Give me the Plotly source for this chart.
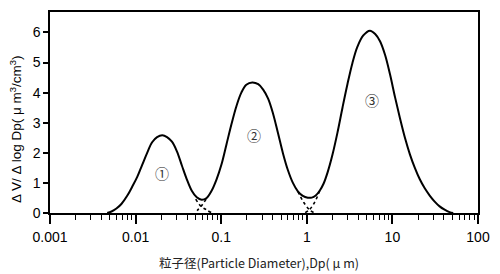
import numpy as np
import plotly.graph_objects as go

# Particle diameter (um) and dV/dlogDp for the solid overall curve
dp_solid = [0.00466, 0.00523, 0.00597, 0.00682, 0.00801, 0.00915, 0.01045, 0.01194, 0.01365,
            0.01560, 0.01782, 0.02052, 0.02327, 0.02658, 0.03038, 0.03471, 0.03966, 0.04532,
            0.05180, 0.05918, 0.06761, 0.07726, 0.08828, 0.1009, 0.1152, 0.1317, 0.1505,
            0.1719, 0.1965, 0.2306, 0.2706, 0.3092, 0.3533, 0.4036, 0.4612, 0.5270, 0.6022,
            0.6881, 0.7863, 0.8984, 1.027, 1.142, 1.271, 1.414, 1.573, 1.750, 2.000, 2.285,
            2.611, 2.983, 3.409, 3.895, 4.570, 5.465, 6.294, 7.192, 8.217, 9.391, 10.73,
            12.26, 14.01, 16.01, 18.29, 20.90, 23.88, 27.29, 31.18, 35.63, 40.71, 46.52, 51.33]
dv_solid = [0.00, 0.05, 0.15, 0.30, 0.58, 0.88, 1.20, 1.60, 2.00,
            2.35, 2.52, 2.58, 2.52, 2.37, 2.05, 1.58, 1.12, 0.74,
            0.52, 0.44, 0.50, 0.74, 1.12, 1.62, 2.28, 2.95, 3.55,
            4.00, 4.26, 4.34, 4.28, 4.10, 3.80, 3.30, 2.65, 1.98, 1.42,
            1.00, 0.72, 0.57, 0.51, 0.51, 0.58, 0.74, 0.98, 1.35, 1.95, 2.68,
            3.50, 4.28, 4.98, 5.52, 5.90, 6.06, 5.95, 5.70, 5.25, 4.60, 3.85,
            3.15, 2.50, 1.95, 1.50, 1.12, 0.82, 0.58, 0.38, 0.22, 0.11, 0.03, 0.00]

# Dashed tails of the individual modes near the two minima
dp_tail1_r = [0.0504, 0.0581, 0.0676, 0.0779]
dv_tail1_r = [0.46, 0.22, 0.10, 0.00]
dp_tail2_l = [0.0667, 0.0581, 0.0539, 0.0500]
dv_tail2_l = [0.46, 0.22, 0.12, 0.00]
dp_tail2_r = [0.7863, 0.9226, 1.074, 1.227]
dv_tail2_r = [0.72, 0.35, 0.11, 0.00]
dp_tail3_l = [1.414, 1.237, 1.074, 0.940]
dv_tail3_l = [0.74, 0.36, 0.11, 0.00]

# Mode labels
label_text = ["①", "②", "③"]
label_dp = [0.0205, 0.243, 5.81]
label_dv = [1.32, 2.58, 3.75]

x_tickvals = [0.001, 0.01, 0.1, 1, 10, 100]
x_ticktext = ["0.001", "0.01", "0.1", "1", "10", "100"]
y_tickvals = [0, 1, 2, 3, 4, 5, 6]
minor_mult = [2, 3, 4, 5, 6, 7, 8, 9]
minor_vals = [m * d for d in [0.001, 0.01, 0.1, 1, 10] for m in minor_mult]

FONT = "Liberation Sans, Arial, sans-serif"

fig = go.Figure()
fig.add_trace(go.Scatter(x=dp_solid, y=dv_solid, mode="lines", line_shape="spline",
                         line=dict(color="black", width=2), hoverinfo="skip", showlegend=False))
for xs, ys in [(dp_tail1_r, dv_tail1_r), (dp_tail2_l, dv_tail2_l),
               (dp_tail2_r, dv_tail2_r), (dp_tail3_l, dv_tail3_l)]:
    fig.add_trace(go.Scatter(x=xs, y=ys, mode="lines", line_shape="spline",
                             line=dict(color="black", width=1.6, dash="dot"),
                             hoverinfo="skip", showlegend=False))

for t, xd, yd in zip(label_text, label_dp, label_dv):
    fig.add_annotation(x=np.log10(xd), y=yd, text=t, showarrow=False,
                       font=dict(family="Noto Sans CJK JP", size=14, color="#333333"))

fig.add_annotation(xref="paper", yref="paper", x=-0.081, y=0.415, xanchor="center",
                   yanchor="middle",
                   text="Δ V/ Δ log Dp( μ m<sup>3</sup>/cm<sup>3</sup>)", textangle=-90,
                   showarrow=False, font=dict(family=FONT, size=13.5, color="black"))
fig.add_annotation(xref="paper", yref="paper", x=0.488, y=-0.245, yanchor="middle",
                   text="粒子径(Particle Diameter),Dp( μ m)",
                   showarrow=False, font=dict(family="Noto Sans CJK JP", size=12.5, color="#222222"))

fig.update_layout(
    xaxis=dict(type="log", range=[-3, 2], tickvals=x_tickvals, ticktext=x_ticktext,
               tickmode="array",
               ticks="outside", ticklen=9, tickwidth=1.5, tickcolor="black",
               showline=True, linecolor="black", linewidth=1.5, mirror=True,
               showgrid=False, zeroline=False, ticklabelstandoff=1,
               tickfont=dict(family=FONT, size=14, color="black"),
               minor=dict(tickmode="array", tickvals=minor_vals, ticks="outside",
                          ticklen=5, tickwidth=1.3, tickcolor="black", showgrid=False)),
    yaxis=dict(range=[0, 6.68], tickvals=y_tickvals, ticks="outside", ticklen=5,
               tickwidth=1.5, tickcolor="black", showline=True, linecolor="black",
               linewidth=1.5, mirror=True, showgrid=False, zeroline=False,
               tickfont=dict(family=FONT, size=14, color="black")),
    width=500, height=274, margin=dict(l=50, r=18, t=10, b=61),
    paper_bgcolor="white", plot_bgcolor="white", showlegend=False)

fig.write_html("out.html")
